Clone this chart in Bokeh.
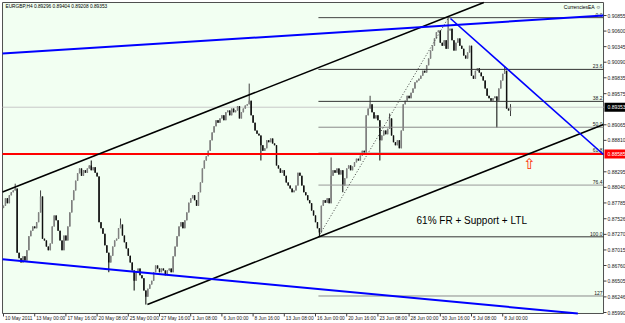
from bokeh.plotting import figure
from bokeh.models import Range1d, ColumnDataSource
from bokeh.embed import file_html
from bokeh.resources import INLINE
from bokeh.core.properties import value

# ---------------- data ----------------
symbol_text = "EURGBP,H4  0.89296 0.89404 0.89208 0.89353"
ea_text = "CurrenciesEA \u263a"
note_text = "61% FR + Support + LTL"

first_open = 0.8770
closes = [
    0.8774, 0.8786, 0.8778, 0.8791, 0.8796, 0.8799, 0.8802, 0.8697, 0.8688, 0.8681,
    0.8691, 0.8684, 0.8701, 0.8724, 0.8733, 0.8740, 0.8737, 0.8747, 0.8763, 0.8789,
    0.8720, 0.8717, 0.8707, 0.8701, 0.8712, 0.8740, 0.8758, 0.8750, 0.8733, 0.8717,
    0.8701, 0.8725, 0.8717, 0.8740, 0.8763, 0.8783, 0.8799, 0.8815, 0.8827, 0.8835,
    0.8823, 0.8832, 0.8828, 0.8835, 0.8840, 0.8832, 0.8837, 0.8828, 0.8822, 0.8747,
    0.8737, 0.8728, 0.8709, 0.8697, 0.8681, 0.8692, 0.8707, 0.8717, 0.8720, 0.8737,
    0.8743, 0.8725, 0.8714, 0.8704, 0.8692, 0.8681, 0.8668, 0.8651, 0.8665, 0.8671,
    0.8660, 0.8655, 0.8635, 0.8625, 0.8638, 0.8645, 0.8651, 0.8665, 0.8676, 0.8671,
    0.8665, 0.8671, 0.8668, 0.8660, 0.8668, 0.8671, 0.8665, 0.8691, 0.8707, 0.8724,
    0.8740, 0.8747, 0.8737, 0.8750, 0.8763, 0.8779, 0.8786, 0.8791, 0.8783, 0.8774,
    0.8796, 0.8812, 0.8835, 0.8848, 0.8855, 0.8864, 0.8881, 0.8894, 0.8904, 0.8914,
    0.8910, 0.8917, 0.8922, 0.8914, 0.8927, 0.8930, 0.8922, 0.8933, 0.8927, 0.8930,
    0.8937, 0.8917, 0.8927, 0.8933, 0.8938, 0.8940, 0.8946, 0.8922, 0.8910, 0.8897,
    0.8892, 0.8889, 0.8873, 0.8864, 0.8868, 0.8881, 0.8878, 0.8884, 0.8876, 0.8873,
    0.8840, 0.8835, 0.8828, 0.8832, 0.8823, 0.8812, 0.8807, 0.8802, 0.8796, 0.8799,
    0.8807, 0.8828, 0.8823, 0.8807, 0.8796, 0.8791, 0.8783, 0.8778, 0.8766, 0.8758,
    0.8747, 0.8737, 0.8730, 0.8774, 0.8783, 0.8779, 0.8786, 0.8778, 0.8823, 0.8832,
    0.8828, 0.8835, 0.8825, 0.8832, 0.8807, 0.8819, 0.8835, 0.8840, 0.8832, 0.8838,
    0.8845, 0.8851, 0.8848, 0.8856, 0.8864, 0.8861, 0.8922, 0.8933, 0.8940, 0.8927,
    0.8917, 0.8922, 0.8914, 0.8881, 0.8889, 0.8897, 0.8891, 0.8900, 0.8917, 0.8889,
    0.8878, 0.8873, 0.8881, 0.8868, 0.8897, 0.8940, 0.8946, 0.8954, 0.8950, 0.8959,
    0.8966, 0.8976, 0.8979, 0.8982, 0.8987, 0.8995, 0.8992, 0.9004, 0.9015, 0.9028,
    0.9036, 0.9048, 0.9058, 0.9061, 0.9041, 0.9036, 0.9045, 0.9031, 0.9061, 0.9064,
    0.9045, 0.9028, 0.9041, 0.9048, 0.9036, 0.9031, 0.9020, 0.9015, 0.9025, 0.9036,
    0.8987, 0.8982, 0.8995, 0.8999, 0.8992, 0.8986, 0.8979, 0.8966, 0.8954, 0.8950,
    0.8946, 0.8950, 0.8953, 0.8946, 0.8966, 0.8979, 0.8990, 0.8995, 0.8933, 0.8930,
    0.89353,
]
high_spikes = {6: 0.8810, 19: 0.8799, 45: 0.8848, 60: 0.8753, 126: 0.8974,
               168: 0.8853, 188: 0.8954, 198: 0.8925, 228: 0.9082, 257: 0.9002,
               260: 0.89404}
low_spikes = {54: 0.8665, 67: 0.8635, 73: 0.8612, 132: 0.8848, 162: 0.8723,
              174: 0.8796, 193: 0.8848, 253: 0.8902, 260: 0.89208}

time_labels = ["10 May 2011", "13 May 00:00", "17 May 16:00", "20 May 08:00",
               "25 May 00:00", "27 May 16:00", "1 Jun 08:00", "6 Jun 00:00",
               "8 Jun 16:00", "13 Jun 08:00", "16 Jun 00:00", "20 Jun 16:00",
               "23 Jun 08:00", "28 Jun 00:00", "30 Jun 16:00", "5 Jul 08:00",
               "8 Jul 00:00"]
bars_per_label = 16

price_ticks = [0.85990, 0.86246, 0.86505, 0.86760, 0.87015, 0.87270, 0.87526,
               0.87785, 0.88040, 0.88295, 0.88810, 0.89065, 0.89575, 0.89835,
               0.90090, 0.90345, 0.90600, 0.90855]
last_price = 0.89353
support_level = 0.88585

# Fibonacci retracement anchors (bar, price)
fib_low = (161.5, 0.8723)
fib_high = (228.2, 0.9082)
fib_ratios = [0.0, 23.6, 38.2, 50.0, 61.8, 76.4, 100.0, 127.0]
fib_texts = ["0.0", "23.6", "38.2", "50.0", "61.8", "76.4", "100.0", "127"]

# trend lines: (bar0, price0, bar1, price1)
channel_upper = (0.0, 0.8797, 228.2, 0.9084)
channel_lower = (73.8, 0.8612, 307.7, 0.8907)
blue_upper = (0.0, 0.90233, 307.7, 0.90855)
blue_lower = (0.0, 0.86859, 289.2, 0.85990)
blue_down = (229.2, 0.90806, 307.7, 0.88578)

arrow_pos = (269.7, 0.88415)
note_pos = (211.8, 0.87497)

# ---------------- layout (chart window in data units) ----------------
X0, X1 = -0.5, 307.7          # plot area, bars
Y0, Y1 = 0.85974, 0.91068     # plot area, price
BAR_PX = 1.95                 # px per bar
PRICE_PX = 0.0001638          # price per px

p = figure(width=625, height=323,
           x_range=Range1d(-1.54, 318.97), y_range=Range1d(0.85810, 0.91101),
           output_backend="svg", toolbar_location=None,
           x_axis_location=None, y_axis_location=None)
p.min_border = 0
p.min_border_left = 0
p.min_border_right = 0
p.min_border_top = 0
p.min_border_bottom = 0
p.background_fill_color = "white"
p.border_fill_color = "white"
p.outline_line_color = None
p.xgrid.grid_line_color = None
p.ygrid.grid_line_color = None

FONT = "Liberation Sans"

# chart window
p.quad(left=[X0], right=[X1], bottom=[Y0], top=[Y1], fill_color="#F2FFF2",
       line_color="#505050", line_width=1)

# bid line
p.line([X0, X1], [last_price, last_price], line_color="#C8C8C8", line_width=1)

# candles
opens = [first_open] + closes[:-1]
opens[-1] = 0.89296
idx = list(range(len(closes)))
tops = [max(o, c) for o, c in zip(opens, closes)]
bots = [min(o, c) for o, c in zip(opens, closes)]
highs = [high_spikes.get(i, t) for i, t in zip(idx, tops)]
lows = [low_spikes.get(i, b) for i, b in zip(idx, bots)]
bull = [c >= o for o, c in zip(opens, closes)]
src = ColumnDataSource(dict(
    x=idx, top=tops, bottom=bots, high=highs, low=lows,
    body=["#808080" if b else "#101010" for b in bull],
    wick=["#404040" if b else "#000000" for b in bull],
))
p.segment(x0="x", y0="low", x1="x", y1="high", line_color="wick", line_width=1, source=src)
p.vbar(x="x", top="top", bottom="bottom", width=0.75, fill_color="body",
       line_color=None, source=src)


def clipped_ray(a, xa_, xb_):
    x0, y0, x1, y1 = a
    s = (y1 - y0) / (x1 - x0)
    lo, hi = xa_, xb_
    if s != 0:
        x_top = x0 + (Y1 - y0) / s
        x_bot = x0 + (Y0 - y0) / s
        if s > 0:
            hi, lo = min(hi, x_top), max(lo, x_bot)
        else:
            hi, lo = min(hi, x_bot), max(lo, x_top)
    return [lo, hi], [y0 + s * (lo - x0), y0 + s * (hi - x0)]


# fibonacci
rng = fib_high[1] - fib_low[1]
fib_colors = ["#444444", "#333333", "#333333", "#8A8A8A", "#8A8A8A", "#999999",
              "#333333", "#8A8A8A"]
fib_levels = [fib_high[1] - r / 100.0 * rng for r in fib_ratios]
for lv, col in zip(fib_levels, fib_colors):
    p.line([fib_low[0], X1], [lv, lv], line_color=col, line_width=1)
p.text(x=[X1 - 0.5] * len(fib_levels), y=[lv + PRICE_PX for lv in fib_levels],
       text=fib_texts, text_align="right", text_baseline="bottom",
       text_font=value(FONT), text_font_size="5px", text_color="#202020")
p.line([fib_low[0], fib_high[0]], [fib_low[1], fib_high[1]], line_color="#404040",
       line_width=1, line_dash="1 2")

# red support line
p.line([X0, X1], [support_level, support_level], line_color="#FF0000", line_width=2)

# trend lines
for a, xa_, xb_, col, w in [
    (channel_upper, X0, X1, "#000000", 1.6),
    (channel_lower, channel_lower[0], X1, "#000000", 1.6),
    (blue_upper, X0, X1, "#0000FF", 2),
    (blue_lower, X0, X1, "#0000FF", 2),
    (blue_down, blue_down[0], X1, "#0000FF", 1.6),
]:
    xs, ys = clipped_ray(a, xa_, xb_)
    p.line(xs, ys, line_color=col, line_width=w)

# annotation texts
p.text(x=[note_pos[0]], y=[note_pos[1]], text=[note_text], text_font=value(FONT),
       text_font_size="10px", text_color="#000000", text_align="left",
       text_baseline="alphabetic")
p.text(x=[arrow_pos[0]], y=[arrow_pos[1]], text=["\u21e7"], text_font=value("DejaVu Sans"),
       text_font_size="15px", text_color="#FF2A00", text_align="center",
       text_baseline="middle")
p.text(x=[X0 + 1.5], y=[Y1 - PRICE_PX], text=[symbol_text], text_align="left",
       text_baseline="top", text_font=value(FONT), text_font_size="4.8px",
       text_color="#000000")
p.text(x=[X1 - 1.2], y=[Y1 - PRICE_PX], text=[ea_text], text_align="right",
       text_baseline="top", text_font=value(FONT), text_font_size="5px",
       text_color="#000000")

# price scale (right)
tick_len = 3 / BAR_PX
p.segment(x0=[X1] * len(price_ticks), y0=price_ticks,
          x1=[X1 + tick_len] * len(price_ticks), y1=price_ticks,
          line_color="#404040", line_width=1)
p.text(x=[X1 + 4 / BAR_PX] * len(price_ticks), y=price_ticks,
       text=["%.5f" % t for t in price_ticks], text_align="left",
       text_baseline="middle", text_font=value(FONT), text_font_size="5px",
       text_color="#202020")

# price tags
tag_prices = [last_price, support_level]
tag_colors = ["#000000", "#FF0000"]
half_h = 4.5 * PRICE_PX
p.quad(left=[X1 + 0.5] * 2, right=[X1 + 12] * 2,
       bottom=[t - half_h for t in tag_prices], top=[t + half_h for t in tag_prices],
       fill_color=tag_colors, line_color=None)
p.text(x=[X1 + 4 / BAR_PX] * 2, y=tag_prices, text=["%.5f" % t for t in tag_prices],
       text_align="left", text_baseline="middle", text_font=value(FONT),
       text_font_size="5px", text_color="white")

# time scale (bottom)
tick_pos = [bars_per_label * k for k in range(len(time_labels))]
p.segment(x0=tick_pos, y0=[Y0] * len(tick_pos), x1=tick_pos,
          y1=[Y0 - 3 * PRICE_PX] * len(tick_pos), line_color="#404040", line_width=1)
p.text(x=[t + 1.5 / BAR_PX for t in tick_pos], y=[Y0 - 2.5 * PRICE_PX] * len(tick_pos),
       text=time_labels, text_align="left", text_baseline="top",
       text_font=value(FONT), text_font_size="4.8px", text_color="#202020")

open("out.html", "w").write(file_html(p, INLINE))
